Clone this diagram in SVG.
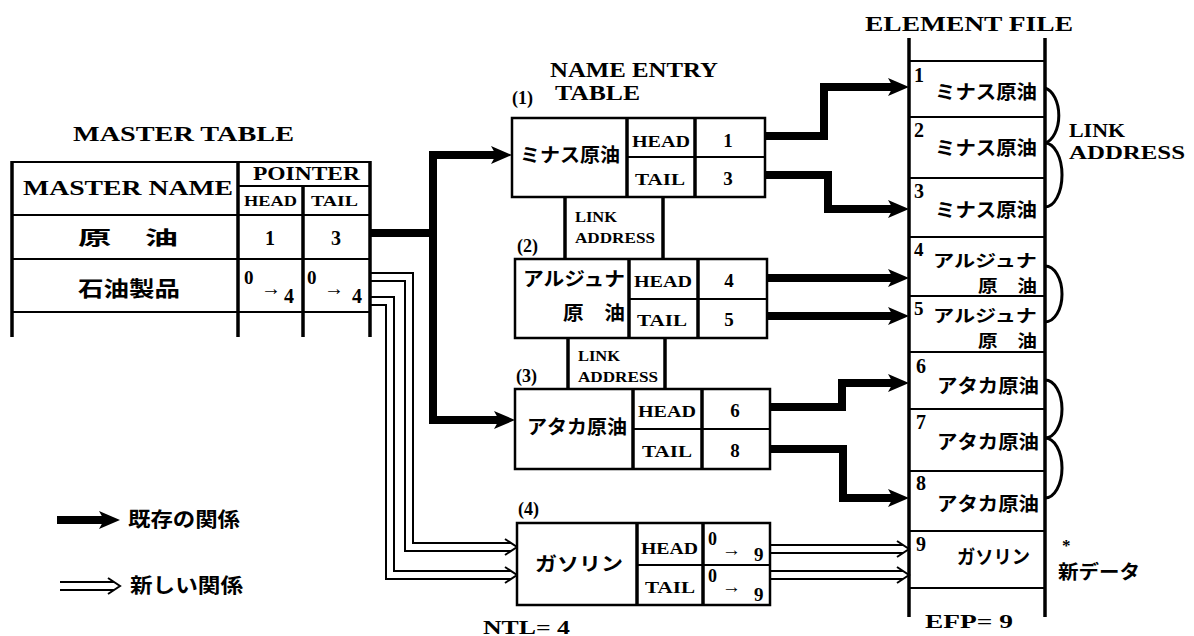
<svg xmlns="http://www.w3.org/2000/svg" width="1194" height="636" viewBox="0 0 1194 636">
<style>
.v{stroke:#000;stroke-width:3.5;fill:none}
.h{stroke:#000;stroke-width:2;fill:none}
.box{fill:#fff;stroke:#000;stroke-width:2.5}
.en{font-family:'Liberation Serif',serif;font-weight:bold;fill:#000}
.jp{font-family:'Noto Sans CJK JP',sans-serif;font-weight:bold;fill:#000}
.thick{stroke:#000;stroke-width:8;fill:none;stroke-linejoin:miter;marker-end:url(#ah)}
.dblo{stroke:#000;stroke-width:10;fill:none;stroke-linejoin:miter}
.dbli{stroke:#fff;stroke-width:6;fill:none;stroke-linejoin:miter}
.chev{stroke:#000;stroke-width:2;fill:none}
.arc{stroke:#000;stroke-width:3;fill:none}
</style>
<defs>
<marker id="ah" markerUnits="userSpaceOnUse" markerWidth="21" markerHeight="18" viewBox="0 0 21 18" refX="6" refY="9" orient="auto">
<path d="M0,0 L21,9 L0,18 L5,9 z" fill="#000"/>
</marker>
</defs>
<rect width="1194" height="636" fill="#fff"/>

<g id="connectors">
<path class="thick" d="M370,233 H433 V155 H497"/>
<path class="thick" d="M433,233 V420 H500"/>
<path class="thick" d="M765,136 H824 V87 H894"/>
<path class="thick" d="M765,175 H828 V209 H894"/>
<path class="thick" d="M767,278 H894"/>
<path class="thick" d="M767,316 H894"/>
<path class="thick" d="M770,407 H842 V383 H894"/>
<path class="thick" d="M770,449 H843 V498 H894"/>
<path class="dblo" d="M370,277 H409 V547 H511"/>
<path class="dbli" d="M370,277 H409 V547 H511"/>
<path class="dblo" d="M370,301 H390 V575 H511"/>
<path class="dbli" d="M370,301 H390 V575 H511"/>
<polyline class="chev" points="505,539 517,547 505,555"/>
<polyline class="chev" points="505,567 517,575 505,583"/>
<path class="dblo" d="M770,549 H903"/>
<path class="dbli" d="M770,549 H903"/>
<path class="dblo" d="M770,575 H903"/>
<path class="dbli" d="M770,575 H903"/>
<polyline class="chev" points="897,541 909,549 897,557"/>
<polyline class="chev" points="897,567 909,575 897,583"/>
</g>

<g id="master-table">
<text class="en" x="73" y="141" font-size="21" textLength="221" lengthAdjust="spacingAndGlyphs">MASTER TABLE</text>
<line class="h" x1="12" y1="162" x2="370" y2="162"/>
<line class="h" x1="238" y1="186" x2="370" y2="186"/>
<line class="h" x1="12" y1="215" x2="370" y2="215"/>
<line class="h" x1="12" y1="259" x2="370" y2="259"/>
<line class="h" x1="12" y1="312" x2="370" y2="312"/>
<line class="v" x1="12" y1="161" x2="12" y2="337"/>
<line class="v" x1="238" y1="161" x2="238" y2="337"/>
<line class="v" x1="303" y1="186" x2="303" y2="337"/>
<line class="v" x1="370" y1="161" x2="370" y2="337"/>
<text class="en" x="23" y="195" font-size="22" textLength="210" lengthAdjust="spacingAndGlyphs">MASTER NAME</text>
<text class="en" x="253" y="180" font-size="18" textLength="107" lengthAdjust="spacingAndGlyphs">POINTER</text>
<text class="en" x="244" y="206" font-size="15" textLength="53" lengthAdjust="spacingAndGlyphs">HEAD</text>
<text class="en" x="311" y="206" font-size="15" textLength="47" lengthAdjust="spacingAndGlyphs">TAIL</text>
<text class="jp" x="78" y="245" font-size="19" textLength="100" lengthAdjust="spacingAndGlyphs">原　油</text>
<text class="en" x="270" y="245" font-size="20" text-anchor="middle">1</text>
<text class="en" x="336" y="245" font-size="20" text-anchor="middle">3</text>
<text class="jp" x="78" y="296" font-size="21" textLength="102" lengthAdjust="spacingAndGlyphs">石油製品</text>
<text class="en" x="244" y="284" font-size="19">0</text>
<text class="en" x="261" y="295" font-size="20">→</text>
<text class="en" x="284" y="303" font-size="20">4</text>
<text class="en" x="307" y="284" font-size="19">0</text>
<text class="en" x="324" y="295" font-size="20">→</text>
<text class="en" x="352" y="303" font-size="20">4</text>
</g>

<g id="name-entry-title">
<text class="en" x="550" y="77" font-size="20" textLength="168" lengthAdjust="spacingAndGlyphs">NAME ENTRY</text>
<text class="en" x="555" y="100" font-size="20" textLength="85" lengthAdjust="spacingAndGlyphs">TABLE</text>
</g>

<g id="entry-1">
<text class="en" x="512" y="104" font-size="18">(1)</text>
<rect class="box" x="512" y="118" width="253" height="79"/>
<line class="v" x1="627" y1="118" x2="627" y2="197"/>
<line class="v" x1="695" y1="118" x2="695" y2="197"/>
<line class="h" x1="627" y1="157" x2="765" y2="157"/>
<text class="jp" x="520" y="162" font-size="19" textLength="100" lengthAdjust="spacingAndGlyphs">ミナス原油</text>
<text class="en" x="632" y="147" font-size="16" textLength="58" lengthAdjust="spacingAndGlyphs">HEAD</text>
<text class="en" x="635" y="185" font-size="16" textLength="50" lengthAdjust="spacingAndGlyphs">TAIL</text>
<text class="en" x="728" y="147" font-size="19" text-anchor="middle">1</text>
<text class="en" x="728" y="185" font-size="19" text-anchor="middle">3</text>
</g>

<g id="link-address-1">
<line class="v" x1="565" y1="197" x2="565" y2="259"/>
<line class="v" x1="663" y1="197" x2="663" y2="259"/>
<text class="en" x="575" y="222" font-size="15" textLength="42" lengthAdjust="spacingAndGlyphs">LINK</text>
<text class="en" x="575" y="243" font-size="15" textLength="80" lengthAdjust="spacingAndGlyphs">ADDRESS</text>
</g>

<g id="entry-2">
<text class="en" x="517" y="252" font-size="18">(2)</text>
<rect class="box" x="515" y="259" width="252" height="79"/>
<line class="v" x1="629" y1="259" x2="629" y2="338"/>
<line class="v" x1="698" y1="259" x2="698" y2="338"/>
<line class="h" x1="629" y1="299" x2="767" y2="299"/>
<text class="jp" x="523" y="286" font-size="19" textLength="102" lengthAdjust="spacingAndGlyphs">アルジュナ</text>
<text class="jp" x="563" y="320" font-size="19" textLength="62" lengthAdjust="spacingAndGlyphs">原　油</text>
<text class="en" x="634" y="287" font-size="16" textLength="58" lengthAdjust="spacingAndGlyphs">HEAD</text>
<text class="en" x="637" y="326" font-size="16" textLength="50" lengthAdjust="spacingAndGlyphs">TAIL</text>
<text class="en" x="729" y="287" font-size="19" text-anchor="middle">4</text>
<text class="en" x="729" y="326" font-size="19" text-anchor="middle">5</text>
</g>

<g id="link-address-2">
<line class="v" x1="568" y1="338" x2="568" y2="389"/>
<line class="v" x1="665" y1="338" x2="665" y2="389"/>
<text class="en" x="578" y="361" font-size="15" textLength="42" lengthAdjust="spacingAndGlyphs">LINK</text>
<text class="en" x="578" y="382" font-size="15" textLength="80" lengthAdjust="spacingAndGlyphs">ADDRESS</text>
</g>

<g id="entry-3">
<text class="en" x="516" y="382" font-size="18">(3)</text>
<rect class="box" x="515" y="389" width="255" height="80"/>
<line class="v" x1="633" y1="389" x2="633" y2="469"/>
<line class="v" x1="702" y1="389" x2="702" y2="469"/>
<line class="h" x1="633" y1="429" x2="770" y2="429"/>
<text class="jp" x="527" y="434" font-size="19" textLength="100" lengthAdjust="spacingAndGlyphs">アタカ原油</text>
<text class="en" x="638" y="417" font-size="16" textLength="58" lengthAdjust="spacingAndGlyphs">HEAD</text>
<text class="en" x="642" y="457" font-size="16" textLength="50" lengthAdjust="spacingAndGlyphs">TAIL</text>
<text class="en" x="735" y="417" font-size="19" text-anchor="middle">6</text>
<text class="en" x="735" y="457" font-size="19" text-anchor="middle">8</text>
</g>

<g id="entry-4">
<text class="en" x="518" y="515" font-size="18">(4)</text>
<rect class="box" x="517" y="523" width="253" height="82"/>
<line class="v" x1="637" y1="523" x2="637" y2="605"/>
<line class="v" x1="703" y1="523" x2="703" y2="605"/>
<line class="h" x1="637" y1="565" x2="770" y2="565"/>
<text class="jp" x="535" y="571" font-size="19" textLength="88" lengthAdjust="spacingAndGlyphs">ガソリン</text>
<text class="en" x="641" y="554" font-size="16" textLength="57" lengthAdjust="spacingAndGlyphs">HEAD</text>
<text class="en" x="645" y="593" font-size="16" textLength="50" lengthAdjust="spacingAndGlyphs">TAIL</text>
<text class="en" x="708" y="545" font-size="18">0</text>
<text class="en" x="722" y="556" font-size="19">→</text>
<text class="en" x="754" y="561" font-size="19">9</text>
<text class="en" x="708" y="582" font-size="18">0</text>
<text class="en" x="722" y="593" font-size="19">→</text>
<text class="en" x="754" y="601" font-size="19">9</text>
<text class="en" x="483" y="634" font-size="19" textLength="87" lengthAdjust="spacingAndGlyphs">NTL= 4</text>
</g>

<g id="element-file">
<text class="en" x="865" y="31" font-size="22" textLength="208" lengthAdjust="spacingAndGlyphs">ELEMENT FILE</text>
<line class="v" x1="909" y1="38" x2="909" y2="617"/>
<line class="v" x1="1045" y1="38" x2="1045" y2="617"/>
<line class="h" x1="909" y1="61" x2="1045" y2="61"/>
<line class="h" x1="909" y1="117" x2="1045" y2="117"/>
<line class="h" x1="909" y1="178" x2="1045" y2="178"/>
<line class="h" x1="909" y1="237" x2="1045" y2="237"/>
<line class="h" x1="909" y1="296" x2="1045" y2="296"/>
<line class="h" x1="909" y1="352" x2="1045" y2="352"/>
<line class="h" x1="909" y1="409" x2="1045" y2="409"/>
<line class="h" x1="909" y1="471" x2="1045" y2="471"/>
<line class="h" x1="909" y1="531" x2="1045" y2="531"/>
<line class="h" x1="909" y1="588" x2="1045" y2="588"/>
<text class="en" x="914" y="82" font-size="20">1</text>
<text class="jp" x="935" y="99" font-size="19" textLength="102" lengthAdjust="spacingAndGlyphs">ミナス原油</text>
<text class="en" x="914" y="137" font-size="20">2</text>
<text class="jp" x="935" y="155" font-size="19" textLength="102" lengthAdjust="spacingAndGlyphs">ミナス原油</text>
<text class="en" x="914" y="198" font-size="20">3</text>
<text class="jp" x="935" y="217" font-size="19" textLength="102" lengthAdjust="spacingAndGlyphs">ミナス原油</text>
<text class="en" x="914" y="256" font-size="19">4</text>
<text class="jp" x="933" y="267" font-size="17" textLength="104" lengthAdjust="spacingAndGlyphs">アルジュナ</text>
<text class="jp" x="978" y="292" font-size="17" textLength="59" lengthAdjust="spacingAndGlyphs">原　油</text>
<text class="en" x="914" y="315" font-size="19">5</text>
<text class="jp" x="933" y="322" font-size="17" textLength="104" lengthAdjust="spacingAndGlyphs">アルジュナ</text>
<text class="jp" x="978" y="347" font-size="17" textLength="59" lengthAdjust="spacingAndGlyphs">原　油</text>
<text class="en" x="916" y="373" font-size="20">6</text>
<text class="jp" x="937" y="393" font-size="19" textLength="102" lengthAdjust="spacingAndGlyphs">アタカ原油</text>
<text class="en" x="916" y="429" font-size="20">7</text>
<text class="jp" x="937" y="449" font-size="19" textLength="102" lengthAdjust="spacingAndGlyphs">アタカ原油</text>
<text class="en" x="916" y="490" font-size="20">8</text>
<text class="jp" x="937" y="511" font-size="19" textLength="102" lengthAdjust="spacingAndGlyphs">アタカ原油</text>
<text class="en" x="916" y="551" font-size="20">9</text>
<text class="jp" x="957" y="564" font-size="19" textLength="73" lengthAdjust="spacingAndGlyphs">ガソリン</text>
<text class="en" x="925" y="628" font-size="19" textLength="88" lengthAdjust="spacingAndGlyphs">EFP= 9</text>
<path class="arc" d="M1045,88 A17,28 0 0 1 1045,143"/>
<path class="arc" d="M1045,143 A17,32 0 0 1 1045,207"/>
<path class="arc" d="M1045,266 A17,28 0 0 1 1045,322"/>
<path class="arc" d="M1045,380 A17,29 0 0 1 1045,438"/>
<path class="arc" d="M1045,438 A17,30 0 0 1 1045,498"/>
<text class="en" x="1069" y="137" font-size="19" textLength="56" lengthAdjust="spacingAndGlyphs">LINK</text>
<text class="en" x="1069" y="159" font-size="19" textLength="116" lengthAdjust="spacingAndGlyphs">ADDRESS</text>
<text class="en" x="1062" y="551" font-size="17">*</text>
<text class="jp" x="1058" y="579" font-size="19" textLength="82" lengthAdjust="spacingAndGlyphs">新データ</text>
</g>

<g id="legend">
<path class="thick" d="M57,520 H105"/>
<text class="jp" x="128" y="527" font-size="20" textLength="112" lengthAdjust="spacingAndGlyphs">既存の関係</text>
<path class="dblo" d="M60,586 H114"/>
<path class="dbli" d="M60,586 H114"/>
<polyline class="chev" points="108,578 120,586 108,594"/>
<text class="jp" x="130" y="593" font-size="20" textLength="113" lengthAdjust="spacingAndGlyphs">新しい関係</text>
</g>
</svg>
